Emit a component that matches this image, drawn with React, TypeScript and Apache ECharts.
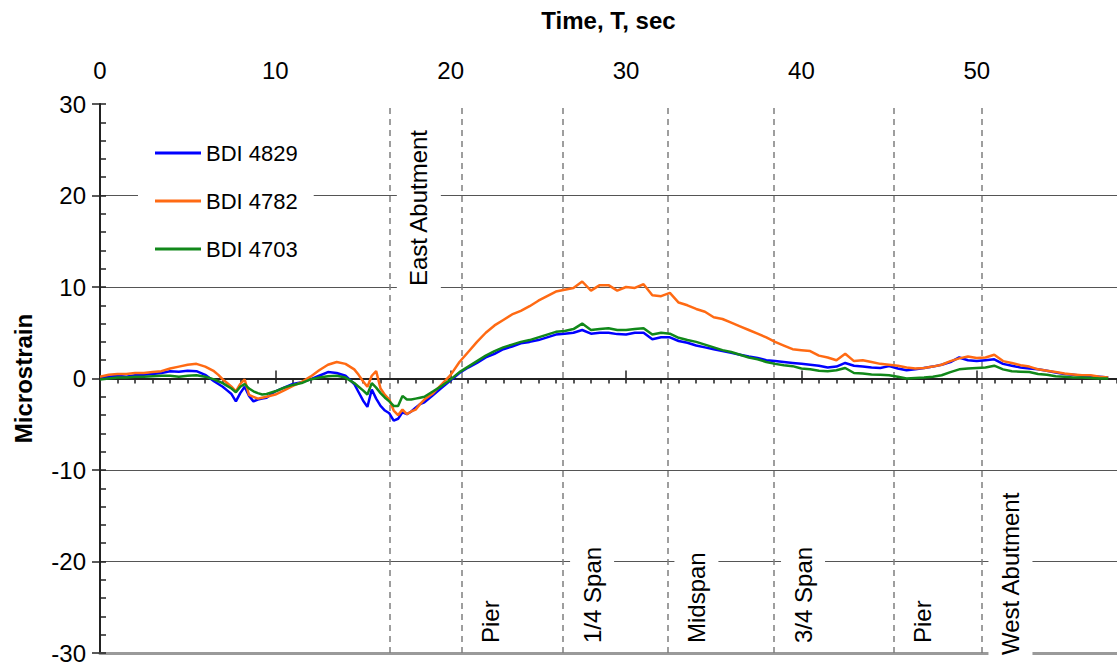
import React, { useEffect, useRef } from "react";
import * as echarts from "echarts";

// Time samples (sec)
const times: number[] = [
  0, 0.5, 1, 1.5, 2, 2.5, 3, 3.5, 4, 4.5, 5, 5.5, 6, 6.5,
  6.75, 7, 7.25, 7.5, 7.75, 8, 8.25, 8.5, 8.75, 9, 9.25, 9.5,
  10, 10.5, 11, 11.5, 12, 12.5, 13, 13.5, 14, 14.5,
  14.75, 15, 15.25, 15.5, 15.75, 16, 16.25, 16.5, 16.75, 17, 17.25, 17.5, 17.75, 18, 18.25, 18.5,
  19, 19.5, 20, 20.5, 21, 21.5, 22, 22.5, 23, 23.5, 24, 24.5, 25, 25.5, 26, 26.5, 27, 27.5,
  28, 28.5, 29, 29.5, 30, 30.5, 31, 31.5, 32, 32.5, 33, 33.5, 34, 34.5, 35, 35.5, 36, 36.5,
  37, 37.5, 38, 38.5, 39, 39.5, 40, 40.5, 41, 41.5, 42, 42.5, 43, 43.5, 44, 44.5, 45, 45.5,
  46, 46.5, 47, 47.5, 48, 48.5, 49, 49.5, 50, 50.5, 51, 51.5, 52, 52.5, 53, 53.5, 54, 54.5,
  55, 55.5, 56, 56.5, 57, 57.5,
];

const bdi4829: number[] = [
  0.1, 0.2, 0.3, 0.2, 0.35, 0.4, 0.5, 0.6, 0.8, 0.75, 0.85, 0.8, 0.4, -0.3,
  -0.6, -0.9, -1.3, -1.7, -2.5, -1.6, -0.9, -1.9, -2.5, -2.3, -2.2, -2.1,
  -1.4, -1.0, -0.6, -0.4, -0.1, 0.3, 0.7, 0.6, 0.3, -0.6,
  -1.5, -2.4, -3.1, -1.2, -2.2, -3.0, -3.5, -3.8, -4.6, -4.4, -3.7, -3.9, -3.6, -3.2, -2.8, -2.6,
  -1.8, -1.0, -0.2, 0.6, 1.2, 1.7, 2.3, 2.7, 3.2, 3.5, 3.85, 4.0, 4.2, 4.5, 4.8, 4.9, 5.0, 5.3,
  4.9, 5.0, 5.0, 4.85, 4.8, 5.0, 5.0, 4.3, 4.5, 4.5, 4.1, 3.9, 3.6, 3.4, 3.2, 3.0, 2.8, 2.6,
  2.4, 2.25, 2.0, 1.9, 1.8, 1.7, 1.6, 1.5, 1.4, 1.2, 1.3, 1.7, 1.4, 1.3, 1.2, 1.15, 1.35, 1.1,
  0.9, 1.0, 1.15, 1.3, 1.5, 1.8, 2.3, 2.0, 1.9, 2.0, 2.1, 1.6, 1.4, 1.2, 1.1, 1.0, 0.85, 0.65,
  0.5, 0.4, 0.3, 0.25, 0.2, 0.1,
];

const bdi4782: number[] = [
  0.2, 0.4, 0.5, 0.5, 0.6, 0.6, 0.7, 0.8, 1.1, 1.3, 1.5, 1.6, 1.3, 0.8,
  0.4, -0.1, -0.5, -0.9, -1.4, -0.6, -0.1, -1.8, -2.0, -2.2, -2.1, -2.0,
  -1.75, -1.3, -0.8, -0.4, 0.2, 0.9, 1.5, 1.8, 1.6, 1.0,
  0.4, -0.3, -0.9, 0.3, 0.8, -1.1, -1.8, -2.3, -3.5, -4.0, -3.4, -3.9, -3.6, -3.4, -2.8, -2.3,
  -1.6, -0.6, 0.4, 1.8, 2.9, 4.0, 5.0, 5.8, 6.4, 7.0, 7.4, 7.9, 8.5, 9.0, 9.5, 9.7, 9.9, 10.6,
  9.6, 10.2, 10.2, 9.6, 10.0, 9.9, 10.3, 9.1, 9.0, 9.35, 8.3, 8.0, 7.6, 7.3, 6.7, 6.5, 6.1, 5.7,
  5.3, 4.9, 4.5, 4.0, 3.6, 3.2, 3.1, 3.0, 2.5, 2.3, 2.0, 2.7, 1.9, 2.0, 1.8, 1.6, 1.5, 1.4,
  1.2, 1.1, 1.15, 1.3, 1.5, 1.9, 2.2, 2.4, 2.25, 2.3, 2.6, 1.9, 1.7, 1.45, 1.3, 1.0, 0.85, 0.7,
  0.55, 0.45, 0.35, 0.35, 0.2, 0.1,
];

const bdi4703: number[] = [
  -0.1, 0.0, 0.1, 0.1, 0.2, 0.2, 0.25, 0.3, 0.3, 0.2, 0.3, 0.35, 0.2, -0.1,
  -0.3, -0.5, -0.8, -1.1, -1.5, -0.9, -0.6, -1.1, -1.4, -1.6, -1.75, -1.7,
  -1.4, -1.0, -0.7, -0.5, -0.1, 0.1, 0.25, 0.3, 0.1, -0.5,
  -0.9, -1.3, -1.75, -0.5, -1.0, -1.6, -2.1, -2.5, -3.0, -3.0, -1.9, -2.3, -2.3, -2.2, -2.1, -2.0,
  -1.4, -0.8, -0.1, 0.7, 1.3, 1.9, 2.5, 3.0, 3.4, 3.7, 4.0, 4.2, 4.5, 4.8, 5.1, 5.2, 5.4, 6.0,
  5.3, 5.4, 5.5, 5.3, 5.3, 5.4, 5.5, 4.8, 5.0, 4.9, 4.45, 4.2, 4.0, 3.7, 3.4, 3.1, 2.9, 2.6,
  2.3, 2.1, 1.8, 1.6, 1.45, 1.35, 1.1, 1.0, 0.85, 0.8, 0.9, 1.15, 0.6, 0.55, 0.45, 0.4, 0.35, 0.2,
  0.0, 0.05, 0.1, 0.2, 0.35, 0.7, 1.0, 1.1, 1.15, 1.2, 1.4, 1.0, 0.8, 0.75, 0.7, 0.5, 0.4, 0.25,
  0.2, 0.1, 0.1, 0.05, 0.0, 0.0,
];

const seriesNames = ["BDI 4829", "BDI 4782", "BDI 4703"];
const seriesColors = ["#0000FF", "#FF6A13", "#11881A"];

// Bridge location markers (sec)
const markerTimes: number[] = [16.53, 20.63, 26.41, 32.36, 38.44, 45.26, 50.27];
const markerLabels: string[] = [
  "East Abutment", "Pier", "1/4 Span", "Midspan", "3/4 Span", "Pier", "West Abutment",
];
// layout of marker labels: top-anchored or bottom-anchored, anchor pixel y
const markerLayout: { side: "top" | "bottom"; y: number }[] = [
  { side: "top", y: 124 },
  { side: "bottom", y: 649 },
  { side: "bottom", y: 649 },
  { side: "bottom", y: 649 },
  { side: "bottom", y: 649 },
  { side: "bottom", y: 649 },
  { side: "bottom", y: 661 },
];

const FONT = "'Liberation Sans', Arial, Helvetica, sans-serif";

export default function App() {
  const ref = useRef<HTMLDivElement>(null);

  useEffect(() => {
    document.body.style.margin = "0";
    if (!ref.current) return;
    const chart = echarts.init(ref.current, undefined, { renderer: "svg" });
    const allSeries = [bdi4829, bdi4782, bdi4703];

    const series: any[] = allSeries.map((vals, i) => ({
      name: seriesNames[i],
      type: "line",
      xAxisIndex: 0,
      yAxisIndex: 0,
      symbol: "none",
      showSymbol: false,
      data: times.map((t, k) => [t, vals[k]]),
      lineStyle: { color: seriesColors[i], width: 2.5 },
      itemStyle: { color: seriesColors[i] },
      z: 3,
    }));
    series[0].markLine = {
      silent: true,
      symbol: ["none", "none"],
      label: { show: false },
      lineStyle: { color: "#7f7f7f", type: [6, 5], width: 1.5 },
      data: markerTimes.map((t) => ({ xAxis: t })),
      z: 2,
    };

    const axisColor = "#222";

    chart.setOption({
      animation: false,
      textStyle: { fontFamily: FONT },
      grid: { left: 100, right: 0, top: 104, bottom: 14, containLabel: false },
      legend: {
        orient: "vertical",
        left: 138,
        top: 129,
        padding: [12, 16, 12, 17],
        backgroundColor: "#ffffff",
        icon: "rect",
        itemWidth: 46,
        itemHeight: 3,
        itemGap: 24,
        data: seriesNames,
        textStyle: { fontSize: 22, color: "#000", fontFamily: FONT, lineHeight: 24 },
        selectedMode: false,
        z: 5,
      },
      xAxis: [
        {
          type: "value",
          position: "top",
          min: 0,
          max: 58,
          interval: 10,
          name: "Time, T, sec",
          nameLocation: "middle",
          nameGap: 72,
          nameTextStyle: { fontSize: 24, fontWeight: "bold", color: "#000", fontFamily: FONT },
          axisLine: { show: true, lineStyle: { color: axisColor, width: 2 } },
          axisTick: { show: true, inside: false, length: 8, lineStyle: { color: axisColor, width: 1.5 } },
          axisLabel: { fontSize: 24, color: "#000", margin: 22, showMaxLabel: false, fontFamily: FONT },
          splitLine: { show: false },
        },
        {
          type: "value",
          position: "top",
          min: 0,
          max: 58,
          interval: 1,
          axisLine: { show: false },
          axisTick: { show: true, inside: true, length: 5, lineStyle: { color: axisColor, width: 1.5 } },
          axisLabel: { show: false },
          splitLine: { show: false },
        },
        {
          type: "value",
          position: "bottom",
          min: 0,
          max: 58,
          axisLine: { show: true, lineStyle: { color: "#9a9a9a", width: 3 } },
          axisTick: { show: false },
          axisLabel: { show: false },
          splitLine: { show: false },
        },
      ],
      yAxis: [
        {
          type: "value",
          position: "left",
          min: -30,
          max: 30,
          interval: 10,
          name: "Microstrain",
          nameLocation: "middle",
          nameGap: 65,
          nameTextStyle: { fontSize: 24, fontWeight: "bold", color: "#000", fontFamily: FONT },
          axisLine: { show: true, lineStyle: { color: axisColor, width: 2 } },
          axisTick: { show: true, inside: false, length: 8, lineStyle: { color: axisColor, width: 1.5 } },
          axisLabel: { fontSize: 24, color: "#000", margin: 14, fontFamily: FONT },
          splitLine: {
            show: true,
            showMinLine: false,
            showMaxLine: false,
            lineStyle: { color: "#555", width: 1 },
          },
        },
        {
          type: "value",
          position: "left",
          min: -30,
          max: 30,
          interval: 2,
          axisLine: { show: false },
          axisTick: { show: true, inside: true, length: 6, lineStyle: { color: axisColor, width: 1.5 } },
          axisLabel: { show: false },
          splitLine: { show: false },
        },
      ],
      series,
    });

    const graphics = markerTimes.map((t, i) => {
      const px = chart.convertToPixel({ xAxisIndex: 0 }, t) as number;
      const lay = markerLayout[i];
      return {
        type: "text",
        x: px + 29,
        y: lay.y,
        rotation: Math.PI / 2,
        z: 100,
        silent: true,
        style: {
          text: markerLabels[i],
          fill: "#000",
          fontSize: 24,
          fontFamily: FONT,
          align: lay.side === "top" ? "right" : "left",
          verticalAlign: "middle",
          backgroundColor: "#ffffff",
          padding: [10, 6, 10, 6],
        },
      };
    });
    chart.setOption({ graphic: graphics });

    return () => chart.dispose();
  }, []);

  return <div ref={ref} style={{ width: 1117, height: 667 }} />;
}
